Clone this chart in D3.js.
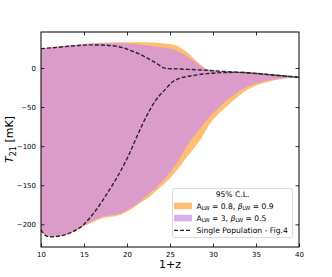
<!DOCTYPE html>
<html>
<head>
<meta charset="utf-8">
<script src="https://cdn.jsdelivr.net/npm/d3@7"></script>
<style>
  body { margin: 0; background: #fff; }
  text { font-family: "DejaVu Sans", sans-serif; }
</style>
</head>
<body>
<svg id="chart" width="332" height="277"></svg>
<script>
// band edges, [1+z, T21 in mK]
const orangeUpper = [[10, 25], [12, 27.5], [14, 29.5], [16, 31.5], [18, 32.5], [20, 33], [21.5, 33], [23, 32.5],
  [24.5, 31], [25.4, 30], [26.5, 24], [27.3, 17], [28.1, 8.5], [28.7, 3], [29.3, -2], [30, -3], [32, -4.5],
  [35, -7], [38, -10], [40, -12]];
const orangeLower = [[10, -207], [10.5, -214], [11, -216], [12.2, -215], [13.7, -210], [14.9, -203], [15.7, -199],
  [17.2, -192], [19.2, -188], [20.3, -182], [21.5, -173], [22.1, -169], [23.5, -156], [25, -141], [26, -128],
  [26.9, -115], [28.5, -92], [30, -66], [31, -55], [32, -45], [33, -36], [34, -28], [36, -19], [38, -14], [40, -12]];
const purpleUpper = [[10, 25], [12, 27.5], [14, 29.5], [15.7, 31], [17.5, 31.5], [19.6, 31.5], [21.5, 30],
  [23.5, 27], [25.4, 23.5], [26.5, 18], [27.3, 12.8], [28.2, 5], [28.9, 0], [29.5, -2], [30.5, -3.5], [32, -4.5],
  [35, -7], [38, -10], [40, -12]];
const purpleLower = [[10, -207], [10.5, -214], [11, -216], [12.2, -215], [13.7, -209.5], [14.9, -202], [15.7, -197],
  [17.2, -190], [19.2, -186], [20.3, -180], [21.5, -171], [22.1, -165], [23.5, -152], [25, -134], [26, -118],
  [26.9, -101], [28.5, -77], [30, -58], [31, -47], [32, -38], [33, -30], [34, -24], [36, -17], [38, -13.5], [40, -12]];
// single population curves (Fig.4)
const singleHigh = [[10, 24.7], [12, 26.5], [14, 28.5], [15.7, 29.5], [17.6, 29], [19.6, 25.6], [20.5, 22],
  [21.5, 17.5], [22.3, 13], [23.05, 8.5], [23.7, 4], [24.2, 0.5], [24.8, -0.8], [25.4, -1], [27, -1.8],
  [29.3, -3], [31, -4.3], [33.1, -5.6], [35, -7], [37, -9], [40, -12]];
const singleLow = [[10, -207], [10.5, -214], [11, -216], [12.2, -215], [13.7, -209.5], [14.9, -201], [16.1, -186],
  [17.2, -169], [18.4, -148], [19.2, -133], [20.3, -109], [21.3, -84], [22.3, -61], [23.3, -42], [24.4, -28],
  [25.4, -17], [26.2, -13], [27.5, -10], [29.3, -7.3], [31, -6], [33.1, -5.6], [35, -7], [37, -9], [40, -12]];

const xTicks = [10, 15, 20, 25, 30, 35, 40];
const yTicks = [0, -50, -100, -150, -200];

const svg = d3.select('#chart');
const margin = { left: 41, right: 33, top: 32, bottom: 30 };
const width = 332 - margin.left - margin.right;
const height = 277 - margin.top - margin.bottom;

const x = d3.scaleLinear().domain([10, 40]).range([0, width]);
const y = d3.scaleLinear().domain([-229, 46]).range([height, 0]);

const g = svg.append('g').attr('transform', `translate(${margin.left},${margin.top})`);

const defs = svg.append('defs');
defs.append('clipPath').attr('id', 'plot-clip')
  .append('rect').attr('width', width).attr('height', height);

// band = area under the upper edge, clipped to the area above the lower edge
const under = d3.area().x(d => x(d[0])).y0(height).y1(d => y(d[1])).curve(d3.curveMonotoneX);
const over = d3.area().x(d => x(d[0])).y0(0).y1(d => y(d[1])).curve(d3.curveMonotoneX);

function band(id, upper, lower, fill, opacity) {
  defs.append('clipPath').attr('id', id).append('path').attr('d', over(lower));
  g.append('g').attr('clip-path', 'url(#plot-clip)')
    .append('path')
    .attr('d', under(upper))
    .attr('clip-path', `url(#${id})`)
    .attr('fill', fill)
    .attr('fill-opacity', opacity);
}

const orange = '#ffbf73';
const purple = '#cd8ee9';
band('clip-orange', orangeUpper, orangeLower, orange, 1);
band('clip-purple', purpleUpper, purpleLower, purple, 0.73);

const dashColor = '#262626';
const dashStyle = '4,2';
const line = d3.line().x(d => x(d[0])).y(d => y(d[1])).curve(d3.curveMonotoneX);
[singleHigh, singleLow].forEach(s => {
  g.append('path')
    .attr('d', line(s))
    .attr('fill', 'none')
    .attr('stroke', dashColor)
    .attr('stroke-width', 1.4)
    .attr('stroke-dasharray', dashStyle);
});

// axes, ticks pointing inward on all sides
const tickLen = 3.5;
const styleAxis = (sel) => {
  sel.select('.domain').remove();
  sel.selectAll('.tick line').attr('stroke', '#000').attr('stroke-width', 0.8);
  sel.selectAll('.tick text').attr('font-size', 7).attr('fill', '#000')
    .attr('font-family', '"DejaVu Sans", sans-serif');
};
const fmt = d => (d < 0 ? '\u2212' + Math.abs(d) : String(d));

g.append('g').attr('transform', `translate(0,${height})`)
  .call(d3.axisBottom(x).tickValues(xTicks).tickSizeInner(-tickLen).tickSizeOuter(0).tickPadding(5))
  .call(styleAxis);
g.append('g')
  .call(d3.axisTop(x).tickValues(xTicks.slice(1, -1)).tickSizeInner(-tickLen).tickSizeOuter(0).tickFormat(''))
  .call(styleAxis);
g.append('g')
  .call(d3.axisLeft(y).tickValues(yTicks).tickSizeInner(-tickLen).tickSizeOuter(0).tickPadding(5).tickFormat(fmt))
  .call(styleAxis);
g.append('g').attr('transform', `translate(${width},0)`)
  .call(d3.axisRight(y).tickValues(yTicks).tickSizeInner(-tickLen).tickSizeOuter(0).tickFormat(''))
  .call(styleAxis);

g.append('rect')
  .attr('width', width).attr('height', height)
  .attr('fill', 'none').attr('stroke', '#000').attr('stroke-width', 1);

// axis labels
svg.append('text')
  .attr('x', margin.left + width / 2).attr('y', 268)
  .attr('text-anchor', 'middle').attr('font-size', 11)
  .text('1+z');

const yl = svg.append('text')
  .attr('transform', `translate(13,${margin.top + height / 2}) rotate(-90)`)
  .attr('text-anchor', 'middle').attr('font-size', 11);
yl.append('tspan').attr('font-style', 'italic').text('T');
yl.append('tspan').attr('font-size', 8).attr('dy', 2.5).text('21');
yl.append('tspan').attr('dy', -2.5).text(' [mK]');

// legend
const fs = 7.6;
const lg = svg.append('g').attr('transform', 'translate(172.5,188.5)');
lg.append('rect')
  .attr('width', 120).attr('height', 49).attr('rx', 2)
  .attr('fill', '#fff').attr('fill-opacity', 0.85)
  .attr('stroke', '#d0d0d0').attr('stroke-width', 0.8);
lg.append('text').attr('x', 60).attr('y', 8.8)
  .attr('text-anchor', 'middle').attr('font-size', fs).text('95% C.L.');

const entries = [
  { type: 'patch', color: orange, opacity: 1, a: '0.8', b: '0.9' },
  { type: 'patch', color: purple, opacity: 0.73, a: '3', b: '0.5' },
  { type: 'line' }
];
entries.forEach((e, i) => {
  const cy = 17.5 + i * 12.2;
  if (e.type === 'patch') {
    lg.append('rect').attr('x', 1.5).attr('y', cy - 3.4).attr('width', 18).attr('height', 6.6)
      .attr('fill', e.color).attr('fill-opacity', e.opacity);
    const t = lg.append('text').attr('x', 24).attr('y', cy + 2.7).attr('font-size', fs);
    t.append('tspan').text('A');
    t.append('tspan').attr('font-size', 5.4).attr('dy', 1.5).text('LW');
    t.append('tspan').attr('dy', -1.5).text(` = ${e.a}, `);
    t.append('tspan').attr('font-style', 'italic').text('\u03b2');
    t.append('tspan').attr('font-size', 5.4).attr('dy', 1.5).text('LW');
    t.append('tspan').attr('dy', -1.5).text(` = ${e.b}`);
  } else {
    lg.append('line').attr('x1', 1.5).attr('x2', 19.5).attr('y1', cy).attr('y2', cy)
      .attr('stroke', dashColor).attr('stroke-width', 1.4).attr('stroke-dasharray', dashStyle);
    lg.append('text').attr('x', 24).attr('y', cy + 2.7).attr('font-size', fs)
      .text('Single Population - Fig.4');
  }
});
</script>
</body>
</html>
